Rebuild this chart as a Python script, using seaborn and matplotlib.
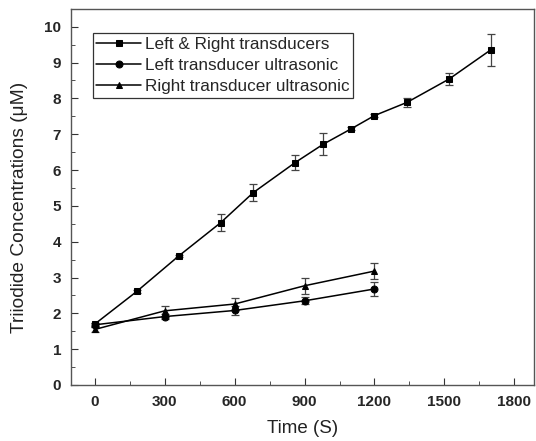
import matplotlib
matplotlib.use("Agg")
import matplotlib.pyplot as plt
import seaborn as sns
import pandas as pd
from matplotlib.ticker import MultipleLocator

# Data
lr_time = [0, 180, 360, 540, 680, 860, 980, 1100, 1200, 1340, 1520, 1700]
lr_conc = [1.70, 2.61, 3.60, 4.53, 5.37, 6.21, 6.72, 7.15, 7.52, 7.89, 8.54, 9.36]
lr_err = [0.04, 0.05, 0.04, 0.24, 0.23, 0.20, 0.31, 0.04, 0.05, 0.12, 0.18, 0.45]

l_time = [0, 300, 600, 900, 1200]
l_conc = [1.68, 1.91, 2.08, 2.35, 2.68]
l_err = [0.05, 0.07, 0.12, 0.10, 0.20]

r_time = [0, 300, 600, 900, 1200]
r_conc = [1.55, 2.07, 2.26, 2.77, 3.18]
r_err = [0.07, 0.14, 0.18, 0.23, 0.22]

labels = ["Left & Right transducers", "Left transducer ultrasonic", "Right transducer ultrasonic"]

df = pd.concat([
    pd.DataFrame({"Time": lr_time, "Conc": lr_conc, "Err": lr_err, "Series": labels[0]}),
    pd.DataFrame({"Time": l_time, "Conc": l_conc, "Err": l_err, "Series": labels[1]}),
    pd.DataFrame({"Time": r_time, "Conc": r_conc, "Err": r_err, "Series": labels[2]}),
])

sns.set_style("ticks")
plt.rcParams["font.family"] = ["Liberation Sans", "DejaVu Sans"]

fig = plt.figure(figsize=(5.36, 4.41), dpi=100)
ax = fig.add_axes([0.132, 0.127, 0.865, 0.853])

markers = {labels[0]: "s", labels[1]: "o", labels[2]: "^"}
for lab in labels:
    sub = df[df["Series"] == lab]
    ax.errorbar(sub["Time"], sub["Conc"], yerr=sub["Err"], fmt="none",
                ecolor="#444444", elinewidth=0.9, capsize=3, capthick=0.9, zorder=2)

sns.lineplot(data=df, x="Time", y="Conc", hue="Series", style="Series",
             markers=markers, dashes=False, palette=["black"] * 3,
             markersize=5, linewidth=1.1, markeredgecolor="black",
             ax=ax, zorder=3, sort=False)

ax.set_xlim(-103, 1886)
ax.set_ylim(0, 10.5)
ax.xaxis.set_major_locator(MultipleLocator(300))
ax.xaxis.set_minor_locator(MultipleLocator(150))
ax.yaxis.set_major_locator(MultipleLocator(1))
ax.yaxis.set_minor_locator(MultipleLocator(0.5))
ax.tick_params(which="both", direction="in", top=False, right=False, color="#333333")
ax.tick_params(which="major", length=5, labelsize=11, pad=7)
ax.tick_params(which="minor", length=3)
for t in ax.get_xticklabels() + ax.get_yticklabels():
    t.set_fontweight("bold")
for s in ax.spines.values():
    s.set_color("#555555")
    s.set_linewidth(1.0)

ax.set_xlabel("Time (S)", fontsize=13.5, color="#222222", labelpad=8)
ax.set_ylabel("Triiodide Concentrations (\u03bcM)", fontsize=13.8, color="#222222")
ax.yaxis.set_label_coords(-0.093, 0.473)

leg = ax.legend(loc="upper left", bbox_to_anchor=(0.047, 0.935), fontsize=12.3,
                frameon=True, fancybox=False, edgecolor="black", handlelength=2.6,
                handletextpad=0.25, borderpad=0.22, labelspacing=0.36, borderaxespad=0)
leg.get_frame().set_linewidth(0.9)

fig.savefig("out.png", dpi=100)
